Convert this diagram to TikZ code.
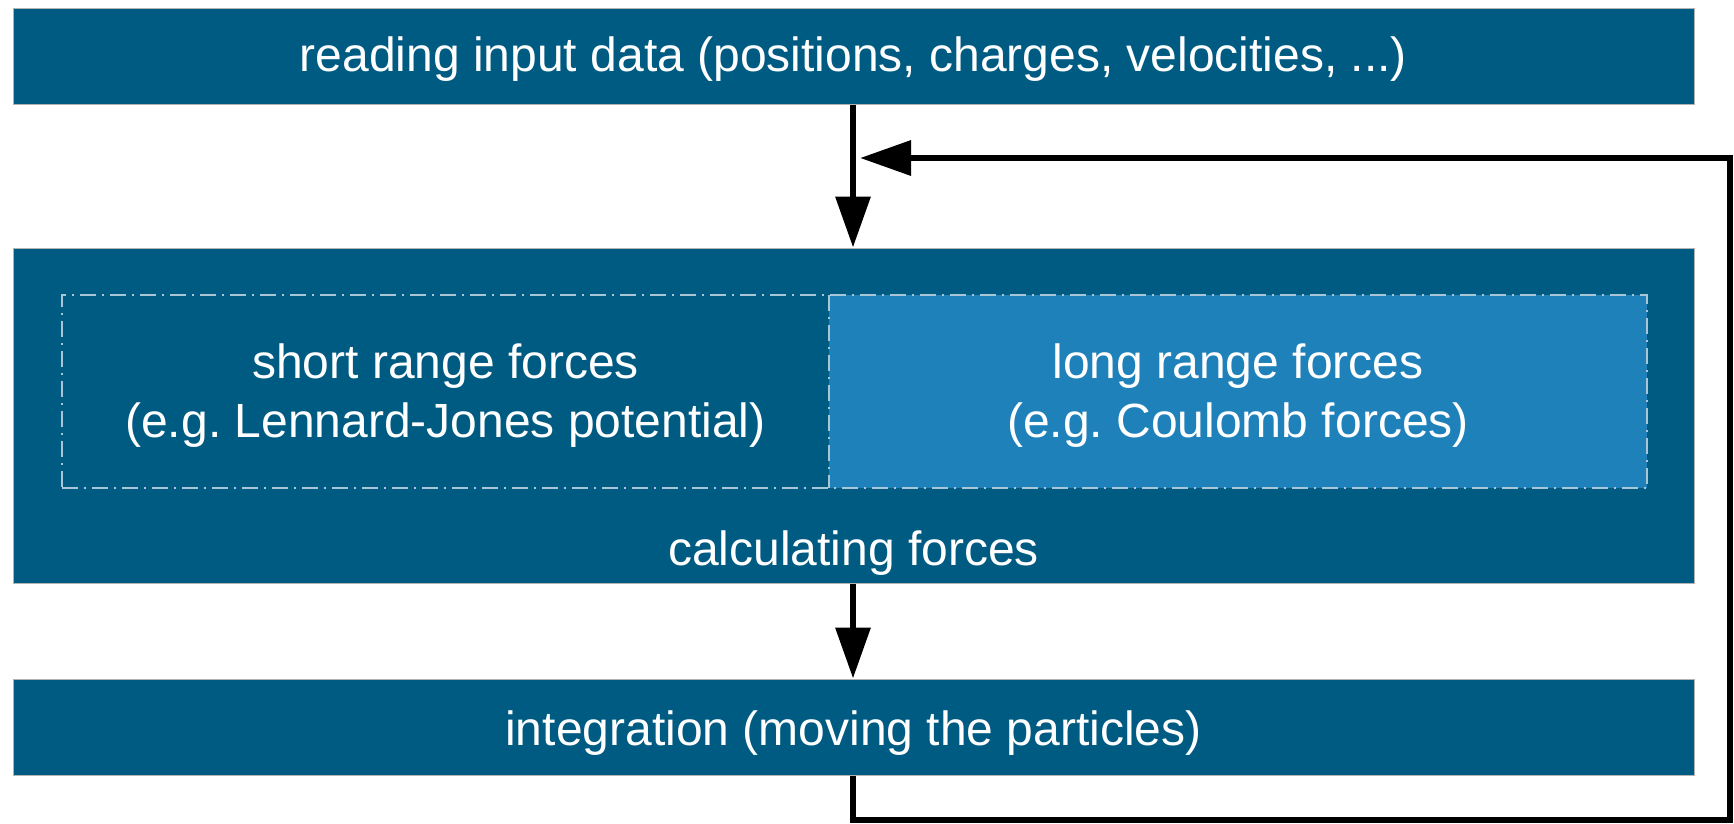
\documentclass[tikz,border=0pt]{standalone}
\usepackage{fontspec}
\setmainfont{Liberation Sans}
\usetikzlibrary{arrows.meta,fit}
\definecolor{darkblue}{HTML}{005B82}
\definecolor{lightblue}{HTML}{1F81BA}
\definecolor{dashcol}{HTML}{A9C6D6}
\tikzset{
  box/.style={fill=darkblue, draw=gray!60, line width=1pt, inner sep=0pt},
  txt/.style={inner sep=0pt, text=white, align=center, font=\frenchspacing\fontsize{48}{59}\selectfont},
  sub/.style={inner sep=0pt},
  flow/.style={line width=6.5pt, -{Triangle[length=51pt,width=34pt]}},
  dashbox/.style={draw=dashcol, line width=1.5pt, dash pattern=on 16pt off 6pt on 2pt off 6pt}
}
\begin{document}
\begin{tikzpicture}[x=1pt,y=-1pt]
\useasboundingbox (0,0) rectangle (1734,823);
\node[box, minimum width=1681pt, minimum height=96pt] (input) at (853.5,56) {};
\node[box, minimum width=1681pt, minimum height=335pt] (forces) at (853.5,415.5) {};
\node[box, minimum width=1681pt, minimum height=96pt] (integ) at (853.5,727) {};
\node[sub, minimum width=767pt, minimum height=193pt] (short) at (445.5,391.5) {};
\node[sub, fill=lightblue, minimum width=818pt, minimum height=193pt] (long) at (1238,391.5) {};
\node[dashbox, inner sep=0pt, fit=(short)(long)] (inner) {};
\draw[dashbox] (long.north west) -- (long.south west);
\node[txt] (tinput) at (853.5,59) {reading input data (positions, charges, velocities, ...)};
\node[txt] (tshort) at (445.5,396) {short range forces\\(e.g. Lennard-Jones potential)};
\node[txt] (tlong) at (1238,396) {long range forces\\(e.g. Coulomb forces)};
\node[txt] (calc) at (853.5,553) {calculating forces};
\node[txt] (tinteg) at (853.5,733) {integration (moving the particles)};
\draw[flow] (input.south -| 853,0) -- (forces.north -| 853,0);
\draw[flow] (forces.south -| 853,0) -- (integ.north -| 853,0);
\coordinate (c1) at (853,820);
\coordinate (c2) at (1730,820);
\coordinate (c3) at (1730,158);
\coordinate (tip) at (860,158);
\draw[flow] (integ.south -| 853,0) -- (c1) -- (c2) -- (c3) -- (tip);
\end{tikzpicture}
\end{document}
